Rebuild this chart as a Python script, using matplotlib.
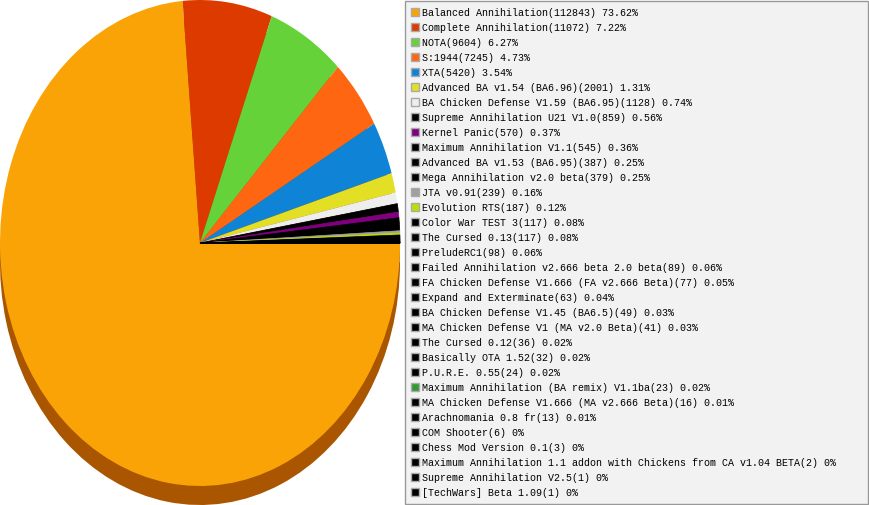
import matplotlib
matplotlib.use('Agg')
import matplotlib.pyplot as plt
from matplotlib.patches import Rectangle

names = ['Balanced Annihilation', 'Complete Annihilation', 'NOTA', 'S:1944', 'XTA',
         'Advanced BA v1.54 (BA6.96)', 'BA Chicken Defense V1.59 (BA6.95)',
         'Supreme Annihilation U21 V1.0', 'Kernel Panic', 'Maximum Annihilation V1.1',
         'Advanced BA v1.53 (BA6.95)', 'Mega Annihilation v2.0 beta', 'JTA v0.91',
         'Evolution RTS', 'Color War TEST 3', 'The Cursed 0.13', 'PreludeRC1',
         'Failed Annihilation v2.666 beta 2.0 beta', 'FA Chicken Defense V1.666 (FA v2.666 Beta)',
         'Expand and Exterminate', 'BA Chicken Defense V1.45 (BA6.5)',
         'MA Chicken Defense V1 (MA v2.0 Beta)', 'The Cursed 0.12', 'Basically OTA 1.52',
         'P.U.R.E. 0.55', 'Maximum Annihilation (BA remix) V1.1ba',
         'MA Chicken Defense V1.666 (MA v2.666 Beta)', 'Arachnomania 0.8 fr', 'COM Shooter',
         'Chess Mod Version 0.1', 'Maximum Annihilation 1.1 addon with Chickens from CA v1.04 BETA',
         'Supreme Annihilation V2.5', '[TechWars] Beta 1.09']
votes = [112843, 11072, 9604, 7245, 5420, 2001, 1128, 859, 570, 545, 387, 379, 239, 187,
         117, 117, 98, 89, 77, 63, 49, 41, 36, 32, 24, 23, 16, 13, 6, 3, 2, 1, 1]
percents = ['73.62', '7.22', '6.27', '4.73', '3.54', '1.31', '0.74', '0.56', '0.37', '0.36',
            '0.25', '0.25', '0.16', '0.12', '0.08', '0.08', '0.06', '0.06', '0.05', '0.04',
            '0.03', '0.03', '0.02', '0.02', '0.02', '0.02', '0.01', '0.01', '0', '0', '0', '0', '0']
colors = ['#FAA307', '#DD3A00', '#66D239', '#FF6611', '#0F83D6', '#E2DF25', '#EEEEEE', '#000000',
          '#800080', '#000000', '#000000', '#000000', '#A0A0A0', '#BBE000'] + ['#000000'] * 11 \
         + ['#339933'] + ['#000000'] * 7

W, H = 869, 505
fig = plt.figure(figsize=(W / 100, H / 100), dpi=100)

# side of the pie, same ellipse shifted down
pie_w, pie_h = 400, 486
ax_side = fig.add_axes([0, 0, pie_w / W, pie_h / H])
ax_side.pie(votes, colors=['#AA5500'] * len(votes), startangle=0, counterclock=False, radius=1)
ax_side.set_aspect('auto')
ax_side.set_xlim(-1, 1)
ax_side.set_ylim(-1, 1)

ax = fig.add_axes([0, (H - pie_h) / H, pie_w / W, pie_h / H])
wedges, _ = ax.pie(votes, colors=colors, startangle=0, counterclock=False, radius=1)
# thin slices get a small edge so they stay solid
for w, c in zip(wedges[7:], colors[7:]):
    w.set_edgecolor(c)
    w.set_linewidth(0.5)
ax.set_aspect('auto')
ax.set_xlim(-1, 1)
ax.set_ylim(-1, 1)

# legend box in pixel coords
lg = fig.add_axes([0, 0, 1, 1])
lg.set_xlim(0, W)
lg.set_ylim(H, 0)
lg.axis('off')
lg.patch.set_alpha(0)
lg.add_patch(Rectangle((405, 0.5), 463, 503.5, fc='#F2F2F2', ec='#999999', lw=1))

row_h = 15.02
for i, name in enumerate(names):
    y = 11.5 + i * row_h
    lg.add_patch(Rectangle((410.5, round(y) - 4), 8, 8, fc=colors[i], ec='#AAAAAA', lw=1))
    lg.text(422.5, y + 4, f'{name}({votes[i]}) {percents[i]}%', family='Liberation Mono',
            fontsize=7.2, va='baseline', ha='left', color='#000000')

fig.savefig('out.png', dpi=100)
